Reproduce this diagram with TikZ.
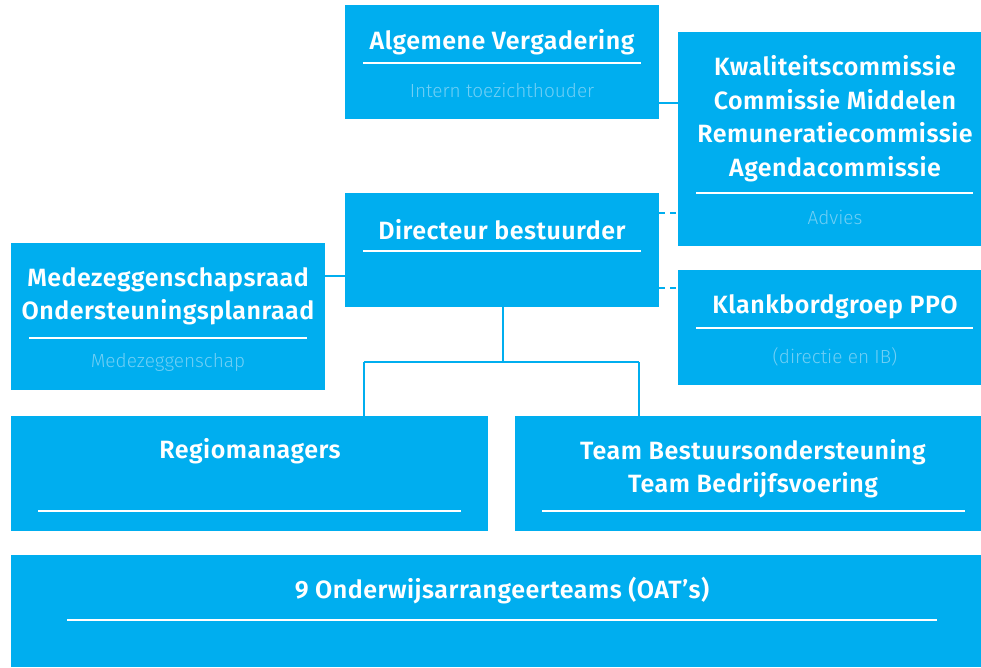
\documentclass[tikz,border=0pt]{standalone}
\usepackage{fontspec}
\setmainfont{Fira Sans}
\newfontfamily\lightfont{Fira Sans Light}
\newfontfamily\titlefont[LetterSpace=2]{Fira Sans SemiBold}
\definecolor{boxblue}{HTML}{00AEEF}
\definecolor{subblue}{HTML}{70CFF5}
\tikzset{
  box/.style={fill=boxblue, draw=none, anchor=north west, inner sep=0pt},
  ttl/.style={text=white, font=\fontsize{25}{33.5}\selectfont\titlefont, inner sep=0pt, align=center},
  sub/.style={text=subblue, font=\fontsize{19}{22}\selectfont\lightfont, inner sep=0pt},
  rule/.style={draw=white, line width=2pt},
  conn/.style={draw=boxblue, line width=2pt},
  dconn/.style={draw=boxblue, line width=2pt, dash pattern=on 6pt off 5pt},
}
\begin{document}
\begin{tikzpicture}[x=1pt,y=-1pt]
\useasboundingbox (0,0) rectangle (981,667);
% boxes
\node[box, minimum width=314pt, minimum height=114pt] (av) at (345,5) {};
\node[box, minimum width=303pt, minimum height=214pt] (kc) at (678,32) {};
\node[box, minimum width=314pt, minimum height=114pt] (db) at (345,193) {};
\node[box, minimum width=303pt, minimum height=115pt] (kb) at (678,270) {};
\node[box, minimum width=314pt, minimum height=147pt] (mz) at (11,243) {};
\node[box, minimum width=477pt, minimum height=115pt] (rm) at (11,416) {};
\node[box, minimum width=466pt, minimum height=115pt] (tb) at (515,416) {};
\node[box, minimum width=970pt, minimum height=112pt] (oat) at (11,555) {};
% texts
\node[ttl] (avt) at (502,42.5) {Algemene Vergadering};
\draw[rule] (363,63) -- (641,63);
\node[sub] (avs) at (502,90.5) {Intern toezichthouder};

\node[ttl] (kct) at (835,118.5) {Kwaliteitscommissie\\Commissie Middelen\\Remuneratiecommissie\\Agendacommissie};
\draw[rule] (696,193) -- (973,193);
\node[sub] (kcs) at (835,217.5) {Advies};

\node[ttl] (dbt) at (502,229.5) {Directeur bestuurder};
\draw[rule] (363,251) -- (641,251);

\node[ttl] (kbt) at (835,306.5) {Klankbordgroep PPO};
\draw[rule] (696,328) -- (973,328);
\node[sub] (kbs) at (835,356.5) {(directie en IB)};

\node[ttl] (mzt) at (168,296.5) {Medezeggenschapsraad\\Ondersteuningsplanraad};
\draw[rule] (29,338) -- (307,338);
\node[sub] (mzs) at (168,362.5) {Medezeggenschap};

\node[ttl] (rmt) at (250,451.5) {Regiomanagers};
\draw[rule] (38,511) -- (461,511);

\node[ttl] (tbt) at (753,468.5) {Team Bestuursondersteuning\\Team Bedrijfsvoering};
\draw[rule] (542,511) -- (965,511);

\node[ttl] (oatt) at (502,591) {9 Onderwijsarrangeerteams (OAT’s)};
\draw[rule] (67,620) -- (937,620);

% connectors
\coordinate (j) at (503,362);
\draw[conn] (av.east |- 0,103) -- (kc.west |- 0,103);
\draw[dconn] (db.east |- 0,213) -- (kc.west |- 0,213);
\draw[dconn] (db.east |- 0,288) -- (kb.west |- 0,288);
\draw[conn] (mz.east |- 0,276) -- (db.west |- 0,276);
\draw[conn] (db.south -| j) -- (j);
\draw[conn] (364,362) -- (639,362);
\draw[conn] (rm.north -| 364,0) -- (364,362);
\draw[conn] (tb.north -| 639,0) -- (639,362);
\end{tikzpicture}
\end{document}
